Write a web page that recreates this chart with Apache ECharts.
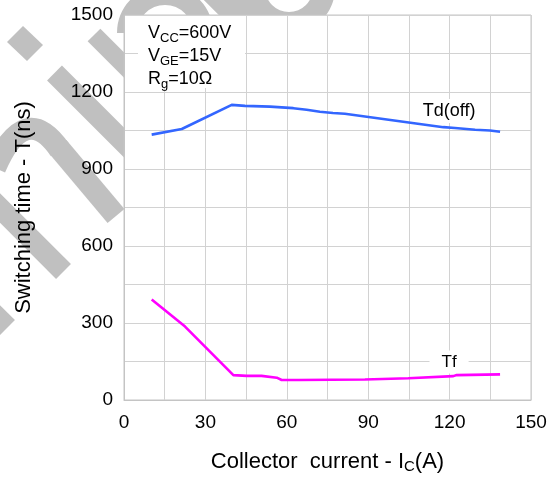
<!DOCTYPE html>
<html>
<head>
<meta charset="utf-8">
<title>Switching time vs collector current</title>
<script src="https://cdn.jsdelivr.net/npm/echarts@6/dist/echarts.min.js"></script>
<style>
  html, body { margin: 0; padding: 0; background: #fff; }
  #chart { width: 553px; height: 479px; }
</style>
</head>
<body>
<div id="chart"></div>
<script>
// Collector current (A) and turn-off delay time Td(off) (ns)
const tdOffCurrent = [10.2, 21.3, 39.7, 44.6, 53.8, 62.4, 67.3, 72.2, 77.0, 81.4, 117.7, 122.0, 129.4, 134.9, 138.6];
const tdOffTime    = [1034, 1056, 1150, 1146, 1143, 1137, 1131, 1123, 1118, 1115, 1063, 1060, 1053, 1050, 1045];

// Collector current (A) and fall time Tf (ns)
const tfCurrent = [10.2, 22.5, 40.3, 45.2, 50.7, 51.3, 56.3, 58.1, 64.3, 64.9, 88.8, 89.4, 104.8, 105.4, 121.4, 122.6, 138.6];
const tfTime    = [392, 286, 97, 94, 94, 88, 87, 78, 78, 80, 80, 85, 85, 92, 93, 97, 100];

// Curve name tags, placed in data space
const tdOffTag = { text: 'Td(off)', at: [119.8, 1126] };
const tfTag    = { text: 'Tf', at: [119.8, 148] };

// Axis ranges and labelled tick steps
const xRange = [0, 150], xGrid = 15, xLabelStep = 30;
const yRange = [0, 1500], yGrid = 150, yLabelStep = 300;

// Test conditions
const conditionLines = ['V{s|CC}=600V', 'V{s|GE}=15V', 'R{s|g}=10\u03A9'];

const FONT = '"Liberation Sans", Arial, Helvetica, sans-serif';
const pair = (xs, ys) => xs.map((x, i) => [x, ys[i]]);

const wm = '#c0c0c0';
const WZ = -100;
const wmLine = (x1, y1, x2, y2, w) => ({
  type: 'line', z: WZ, silent: true,
  shape: { x1, y1, x2, y2 },
  style: { stroke: wm, lineWidth: w, lineCap: 'butt' }
});

const chart = echarts.init(document.getElementById('chart'), null, { renderer: 'canvas' });

chart.setOption({
  animation: false,
  backgroundColor: '#ffffff',
  grid: {
    left: 124, right: 22, top: 15, bottom: 78,
    show: true, backgroundColor: '#ffffff',
    borderColor: '#c4c4c4', borderWidth: 1
  },
  xAxis: {
    type: 'value', min: xRange[0], max: xRange[1], interval: xGrid,
    name: 'Collector  current - I{s|C}(A)',
    nameLocation: 'middle', nameGap: 49,
    nameTextStyle: {
      fontFamily: FONT, fontSize: 22, color: '#000', lineHeight: 25,
      rich: { s: { fontFamily: FONT, fontSize: 15, lineHeight: 16, verticalAlign: 'bottom', color: '#000' } }
    },
    axisLine: { show: true, lineStyle: { color: '#c4c4c4', width: 1 } },
    axisTick: { show: false },
    splitLine: { show: true, lineStyle: { color: '#d2d2d2', width: 1 } },
    axisLabel: {
      fontFamily: FONT, fontSize: 19, color: '#000', margin: 13,
      formatter: v => (v % xLabelStep === 0 ? String(v) : '')
    }
  },
  yAxis: {
    type: 'value', min: yRange[0], max: yRange[1], interval: yGrid,
    name: 'Switching time - T(ns)',
    nameLocation: 'middle', nameRotate: 90, nameGap: 89,
    nameTextStyle: { fontFamily: FONT, fontSize: 22, color: '#000' },
    axisLine: { show: true, lineStyle: { color: '#c4c4c4', width: 1 } },
    axisTick: { show: false },
    splitLine: { show: true, lineStyle: { color: '#d2d2d2', width: 1 } },
    axisLabel: {
      fontFamily: FONT, fontSize: 19, color: '#000', margin: 11,
      formatter: v => (v % yLabelStep === 0 ? String(v) : '')
    }
  },
  series: [
    {
      name: 'Td(off)', type: 'line', showSymbol: false, z: 5,
      data: pair(tdOffCurrent, tdOffTime),
      lineStyle: { color: '#3366ff', width: 2.6 },
      markPoint: {
        symbol: 'rect', symbolSize: 1, itemStyle: { color: 'rgba(0,0,0,0)' },
        label: {
          show: true, position: 'inside', formatter: tdOffTag.text,
          fontFamily: FONT, fontSize: 18, color: '#000',
          backgroundColor: '#fff', padding: [3, 6]
        },
        data: [{ coord: tdOffTag.at }]
      }
    },
    {
      name: 'Tf', type: 'line', showSymbol: false, z: 5,
      data: pair(tfCurrent, tfTime),
      lineStyle: { color: '#ff00ff', width: 2.6 },
      markPoint: {
        symbol: 'rect', symbolSize: 1, itemStyle: { color: 'rgba(0,0,0,0)' },
        label: {
          show: true, position: 'inside', formatter: tfTag.text,
          fontFamily: FONT, fontSize: 17, color: '#000',
          backgroundColor: '#fff', padding: [3, 12]
        },
        data: [{ coord: tfTag.at }]
      }
    }
  ],
  graphic: [
    // faint background stamp
    { type: 'polygon', z: WZ, silent: true,
      shape: { points: [[7, 42], [23, 26], [43, 45], [27, 61]] },
      style: { fill: wm } },
    wmLine(54.5, 73, 220, 238.5, 21),
    wmLine(94, 35, 220, 161, 18),
    { type: 'bezierCurve', z: WZ, silent: true,
      shape: { x1: -5, y1: 168, cpx1: 25, cpy1: 100, x2: 60, y2: 150 },
      style: { stroke: wm, fill: null, lineWidth: 22, lineCap: 'butt' } },
    wmLine(58, 147, 116, 216, 22),
    wmLine(-30, 178, 63.5, 271.5, 21),
    wmLine(-60, 260, 7.5, 327.5, 21),
    { type: 'arc', z: WZ, silent: true,
      shape: { cx: 165, cy: 33, r: 38, startAngle: Math.PI, endAngle: Math.PI * 2, clockwise: true },
      style: { stroke: wm, fill: null, lineWidth: 20 } },
    wmLine(195, -30, 260, 35, 30),
    { type: 'ring', z: WZ, silent: true,
      shape: { cx: 289, cy: -12, r: 46, r0: 24 },
      style: { fill: wm } },

    // test conditions box
    { type: 'rect', z: 50, silent: true,
      shape: { x: 138, y: 16, width: 107, height: 72 },
      style: { fill: '#fff' } },
    { type: 'text', z: 51, silent: true, left: 148, top: 22,
      style: {
        text: conditionLines.join('\n'),
        fontFamily: FONT, fontSize: 18, lineHeight: 23, fill: '#000',
        rich: { s: { fontFamily: FONT, fontSize: 13, lineHeight: 14, verticalAlign: 'bottom', fill: '#000' } }
      } }
  ]
});
</script>
</body>
</html>
